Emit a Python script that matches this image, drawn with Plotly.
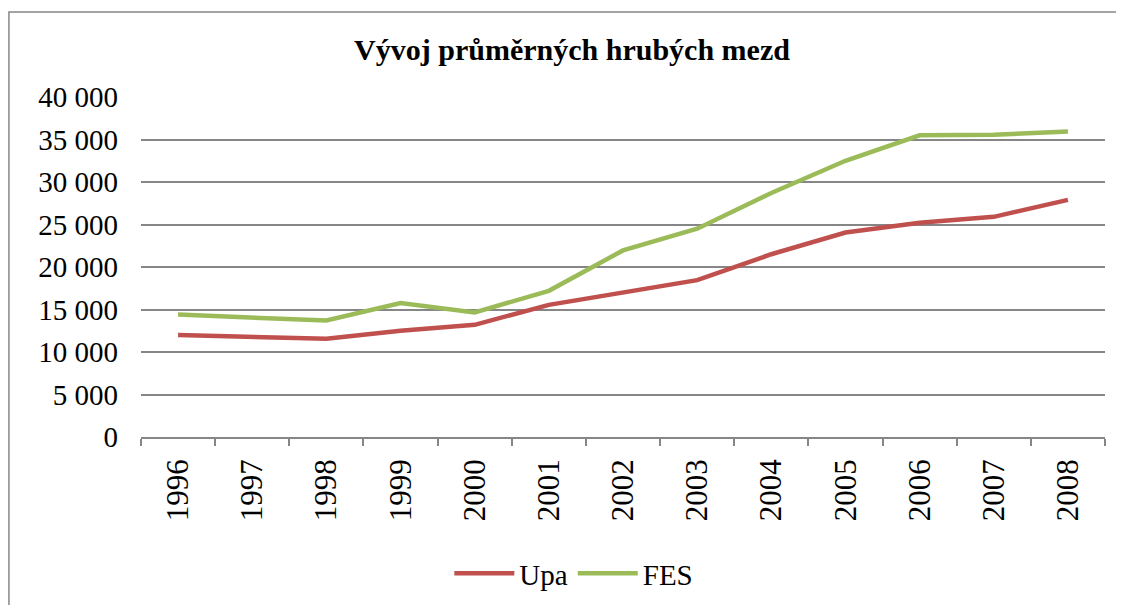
import plotly.graph_objects as go

years = ["1996", "1997", "1998", "1999", "2000", "2001", "2002",
         "2003", "2004", "2005", "2006", "2007", "2008"]
upa = [12000, 11800, 11550, 12500, 13200, 15550, 17000,
       18450, 21500, 24050, 25200, 25900, 27900]
fes = [14400, 14100, 13700, 15750, 14650, 17200, 21950,
       24500, 28700, 32500, 35500, 35550, 35950]

FONT = "Liberation Serif"

fig = go.Figure()
fig.add_trace(go.Scatter(x=years, y=upa, name="Upa", mode="lines",
                         line=dict(color="#C0504D", width=4.5)))
fig.add_trace(go.Scatter(x=years, y=fes, name="FES", mode="lines",
                         line=dict(color="#9BBB59", width=4.5)))

fig.update_layout(
    width=1116, height=597,
    margin=dict(l=133, r=19, t=89, b=168, autoexpand=False),
    paper_bgcolor="white", plot_bgcolor="white",
    separators=", ",
    font=dict(family=FONT, color="black", size=29),
    title=dict(text="<b>Vývoj průměrných hrubých mezd</b>",
               x=0.5054, xanchor="center", y=0.930, yanchor="middle",
               font=dict(family=FONT, size=30, color="black")),
    showlegend=True,
    legend=dict(orientation="h", x=0.449, xanchor="center",
                yref="container", y=0.053, yanchor="middle",
                font=dict(family=FONT, size=29), itemwidth=60, tracegroupgap=0),
    xaxis=dict(type="category", showgrid=False, showline=True,
               linecolor="#868686", linewidth=1.5, ticks="outside",
               tickson="boundaries", ticklen=7, tickcolor="#868686",
               tickwidth=1.5, tickangle=-90, tickfont=dict(family=FONT, size=31),
               ticklabelstandoff=8, range=[-0.5, 12.5], automargin=False),
    yaxis=dict(range=[0, 40000], dtick=5000, tickformat=",d",
               showgrid=True, gridcolor="#868686", gridwidth=1.5,
               zeroline=False, showline=False, ticks="", automargin=False,
               tickfont=dict(family=FONT, size=29), ticklabelstandoff=22),
)

fig.add_shape(type="rect", xref="paper", yref="paper",
              x0=-0.137, x1=1.0156, y0=-0.7, y1=1.25,
              line=dict(color="#878787", width=1.5), fillcolor="rgba(0,0,0,0)",
              layer="below")

fig.write_html("out.html")
